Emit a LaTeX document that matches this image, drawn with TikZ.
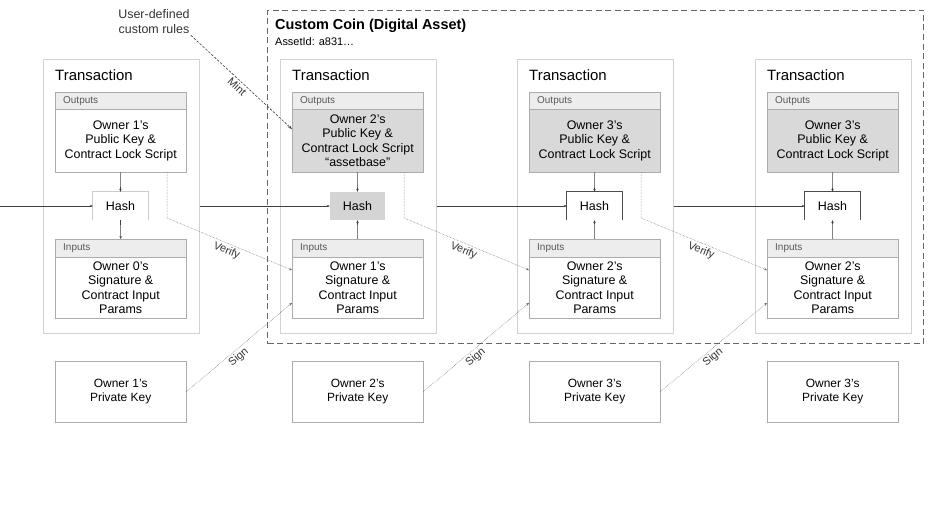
\documentclass[tikz,border=0pt]{standalone}
\usepackage{fontspec}
\setmainfont{Liberation Sans}
\usetikzlibrary{arrows.meta}

\begin{document}
\begin{tikzpicture}[x=1bp, y=-1bp,
  txbox/.style={draw=gray!35, line width=1.2bp, anchor=north west, minimum width=156bp, minimum height=274bp, inner sep=0pt},
  txtitle/.style={anchor=west, inner sep=0pt, font=\fontsize{15}{18}\selectfont},
  headbox/.style={draw=gray!65, fill=black!7, anchor=north west, minimum width=131bp, minimum height=17bp, inner xsep=8bp, inner ysep=0pt, text width=115bp, align=left, text=black!65, font=\fontsize{10}{12}\selectfont},
  bodybox/.style={draw=gray!65, anchor=north west, minimum width=131bp, inner ysep=1bp, align=center, font=\fontsize{12.5}{14.5}\selectfont},
  hashbox/.style={minimum width=55bp, minimum height=28bp, font=\fontsize{12.5}{15}\selectfont},
  keybox/.style={draw=gray!65, anchor=north west, minimum width=131bp, minimum height=61bp, align=center, font=\fontsize{12}{14}\selectfont},
  link/.style={-{Stealth[length=3bp, width=2.5bp]}, draw=black!75, line width=0.6bp},
  dotlink/.style={-{Stealth[length=3bp, width=2.5bp]}, draw=black!60, line width=0.5bp, densely dotted},
  tag/.style={font=\fontsize{11}{13}\selectfont, text=black!80, inner sep=2bp}
]
  \useasboundingbox (0,0) rectangle (948,515);

  % custom coin group
  \node[draw=black!60, line width=1bp, dash pattern=on 6bp off 3.5bp, anchor=north west, minimum width=656bp, minimum height=333bp, inner sep=0pt] (coin) at (267,10) {};
  \node[anchor=west, inner sep=0pt, font=\fontsize{14.5}{17}\selectfont\bfseries] (cointitle) at (275,26) {Custom Coin (Digital Asset)};
  \node[anchor=west, inner sep=0pt, font=\fontsize{11}{13}\selectfont] (assetid) at (275,42) {AssetId: a831…};
  \node[tag, align=center, font=\fontsize{12.5}{15}\selectfont, inner sep=1bp] (rules) at (154,22) {User-defined\\custom rules};

  % transaction 1
  \node[txbox] (tx1) at (43,59) {};
  \node[txtitle] (tx1t) at (55,75) {Transaction};
  \node[headbox] (out1h) at (55,92) {Outputs};
  \node[bodybox, minimum height=63bp] (out1) at (55,109) {Owner 1’s\\Public Key \&\\Contract Lock Script};
  \node[hashbox] (h1) at (120.5,206) {Hash};
  \node[headbox, minimum height=18bp] (in1h) at (55,239) {Inputs};
  \node[bodybox, minimum height=61bp] (in1) at (55,257) {Owner 0’s\\Signature \&\\Contract Input\\Params};
  \node[keybox] (pk1) at (55,361) {Owner 1’s\\Private Key};

  % transaction 2
  \node[txbox] (tx2) at (280,59) {};
  \node[txtitle] (tx2t) at (292,75) {Transaction};
  \node[headbox] (out2h) at (292,92) {Outputs};
  \node[bodybox, fill=black!15, minimum height=63bp] (out2) at (292,109) {Owner 2’s\\Public Key \&\\Contract Lock Script\\“assetbase”};
  \node[hashbox, fill=black!17] (h2) at (357.5,206) {Hash};
  \node[headbox, minimum height=18bp] (in2h) at (292,239) {Inputs};
  \node[bodybox, minimum height=61bp] (in2) at (292,257) {Owner 1’s\\Signature \&\\Contract Input\\Params};
  \node[keybox] (pk2) at (292,361) {Owner 2’s\\Private Key};

  % transaction 3
  \node[txbox] (tx3) at (517,59) {};
  \node[txtitle] (tx3t) at (529,75) {Transaction};
  \node[headbox] (out3h) at (529,92) {Outputs};
  \node[bodybox, fill=black!15, minimum height=63bp] (out3) at (529,109) {Owner 3’s\\Public Key \&\\Contract Lock Script};
  \node[hashbox] (h3) at (594.5,206) {Hash};
  \node[headbox, minimum height=18bp] (in3h) at (529,239) {Inputs};
  \node[bodybox, minimum height=61bp] (in3) at (529,257) {Owner 2’s\\Signature \&\\Contract Input\\Params};
  \node[keybox] (pk3) at (529,361) {Owner 3’s\\Private Key};

  % transaction 4
  \node[txbox] (tx4) at (755,59) {};
  \node[txtitle] (tx4t) at (767,75) {Transaction};
  \node[headbox] (out4h) at (767,92) {Outputs};
  \node[bodybox, fill=black!15, minimum height=63bp] (out4) at (767,109) {Owner 3’s\\Public Key \&\\Contract Lock Script};
  \node[hashbox] (h4) at (832.5,206) {Hash};
  \node[headbox, minimum height=18bp] (in4h) at (767,239) {Inputs};
  \node[bodybox, minimum height=61bp] (in4) at (767,257) {Owner 2’s\\Signature \&\\Contract Input\\Params};
  \node[keybox] (pk4) at (767,361) {Owner 3’s\\Private Key};

  % hash boxes, open at the bottom
  \draw[gray!40, line width=0.8bp] (h1.south west) |- (h1.north east) -- (h1.south east);
  \draw[black!70, line width=0.8bp] (h3.south west) |- (h3.north east) -- (h3.south east);
  \draw[black!70, line width=0.8bp] (h4.south west) |- (h4.north east) -- (h4.south east);

  % hash chain
  \coordinate (lead) at (0,206);
  \draw[link] (lead) -- (h1.west);
  \draw[link] (tx1.east |- h2.west) -- (h2.west);
  \draw[link] (tx2.east |- h3.west) -- (h3.west);
  \draw[link] (tx3.east |- h4.west) -- (h4.west);

  % inside each transaction
  \draw[link] (out1.south) -- (h1.north);
  \draw[link] (h1.south) -- (in1h.north);
  \draw[link] (out2.south) -- (h2.north);
  \draw[link] (in2h.north) -- (h2.south);
  \draw[link] (out3.south) -- (h3.north);
  \draw[link] (in3h.north) -- (h3.south);
  \draw[link] (out4.south) -- (h4.north);
  \draw[link] (in4h.north) -- (h4.south);

  % verify: outputs -> next inputs
  \coordinate (v1) at (167,218);
  \coordinate (v2) at (404,218);
  \coordinate (v3) at (641,218);
  \draw[dotlink] (out1.south -| v1) -- (v1) -- node[tag, pos=0.5, below, sloped] {Verify} (in2.165);
  \draw[dotlink] (out2.south -| v2) -- (v2) -- node[tag, pos=0.5, below, sloped] {Verify} (in3.165);
  \draw[dotlink] (out3.south -| v3) -- (v3) -- node[tag, pos=0.5, below, sloped] {Verify} (in4.165);

  % sign: private key -> next inputs
  \draw[dotlink] (pk1.east) -- node[tag, pos=0.45, below, sloped] {Sign} (in2.193);
  \draw[dotlink] (pk2.east) -- node[tag, pos=0.45, below, sloped] {Sign} (in3.193);
  \draw[dotlink] (pk3.east) -- node[tag, pos=0.45, below, sloped] {Sign} (in4.193);

  % mint
  \draw[-{Stealth[length=4bp, width=3bp]}, black!75, line width=0.6bp, dash pattern=on 2.5bp off 1.5bp] (rules.south east) -- node[tag, pos=0.5, below, sloped] {Mint} (out2.170);
\end{tikzpicture}
\end{document}
